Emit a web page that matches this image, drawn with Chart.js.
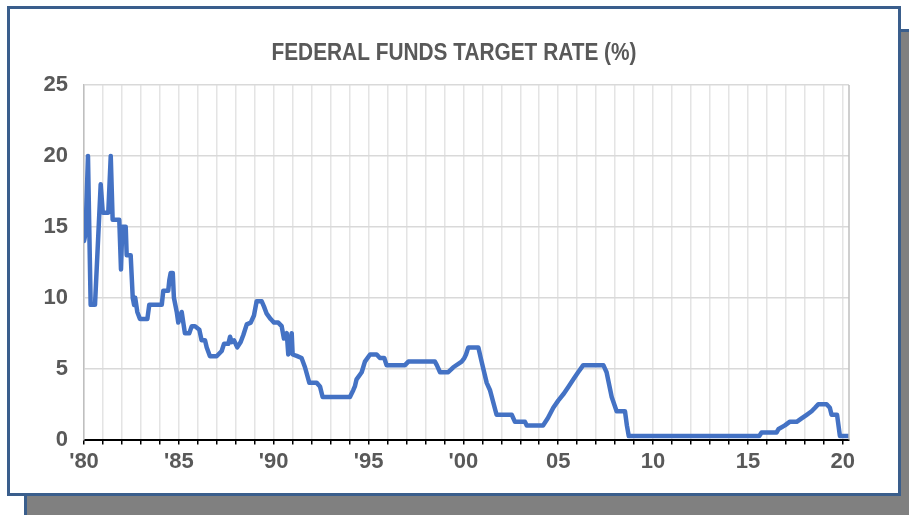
<!DOCTYPE html>
<html>
<head>
<meta charset="utf-8">
<title>Federal Funds Target Rate</title>
<script src="https://cdn.jsdelivr.net/npm/chart.js@4.4.1/dist/chart.umd.min.js"></script>
<style>
    html, body {
        margin: 0;
        padding: 0;
        width: 909px;
        height: 515px;
        overflow: hidden;
        background: #ffffff;
    }
    /* Sombra gris desplazada detrás del panel */
    .panel-shadow {
        position: absolute;
        left: 24px;
        top: 29px;
        width: 900px;
        height: 500px;
        background: #808080;
        border: 3px solid #3a5e8c;
    }
    .panel {
        position: absolute;
        left: 7px;
        top: 6px;
        width: 888px;
        height: 484px;
        background: #ffffff;
        border: 3px solid #3a5e8c;
    }
    #chart-wrap {
        position: absolute;
        left: 0;
        top: 0;
        width: 909px;
        height: 515px;
    }
</style>
</head>
<body>
<div class="panel-shadow"></div>
<div class="panel"></div>
<div id="chart-wrap"><canvas id="rate-chart"></canvas></div>

<script>
// Fechas (año decimal) y tasa objetivo de los fondos federales en %
const years = [
    1980.00, 1980.08, 1980.21, 1980.35, 1980.58, 1980.88, 1980.99, 1981.28, 1981.41, 1981.51,
    1981.86, 1981.95, 1982.02, 1982.20, 1982.25, 1982.46, 1982.57, 1982.64, 1982.70, 1982.81,
    1982.95, 1983.34, 1983.44, 1984.10, 1984.18, 1984.44, 1984.50, 1984.57, 1984.68, 1984.74,
    1984.89, 1984.97, 1985.15, 1985.32, 1985.55, 1985.68, 1985.85, 1986.08, 1986.20, 1986.38,
    1986.47, 1986.64, 1986.99, 1987.08, 1987.26, 1987.38, 1987.61, 1987.70, 1987.79, 1987.91,
    1988.08, 1988.26, 1988.40, 1988.58, 1988.79, 1988.96, 1989.10, 1989.37, 1989.49, 1989.63,
    1989.84, 1990.02, 1990.24, 1990.42, 1990.54, 1990.69, 1990.77, 1990.95, 1991.00, 1991.21,
    1991.47, 1991.65, 1991.88, 1992.27, 1992.44, 1992.58, 1994.02, 1994.20, 1994.28, 1994.37,
    1994.64, 1994.81, 1995.08, 1995.43, 1995.60, 1995.83, 1995.95, 1996.92, 1997.10, 1998.50,
    1998.60, 1998.77, 1999.20, 1999.47, 1999.91, 2000.05, 2000.14, 2000.26, 2000.79, 2000.96,
    2001.23, 2001.40, 2001.75, 2002.55, 2002.72, 2003.25, 2003.34, 2004.20, 2004.45, 2004.74,
    2005.00, 2005.30, 2005.55, 2005.80, 2006.05, 2006.32, 2007.38, 2007.55, 2007.82, 2008.08,
    2008.52, 2008.62, 2008.72, 2015.60, 2015.72, 2016.51, 2016.62, 2016.95, 2017.20, 2017.57,
    2017.83, 2018.10, 2018.36, 2018.54, 2018.71, 2019.15, 2019.32, 2019.41, 2019.70, 2019.85,
    2020.33
];
const rates = [
    14.0, 14.5, 20.0, 9.5, 9.5, 18.0, 16.0, 16.0, 20.0, 15.5,
    15.5, 12.0, 15.0, 15.0, 13.0, 13.0, 10.0, 9.5, 10.0, 9.0,
    8.5, 8.5, 9.5, 9.5, 10.5, 10.5, 11.25, 11.75, 11.75, 10.0,
    9.0, 8.25, 9.0, 7.5, 7.5, 8.0, 8.0, 7.75, 7.0, 7.0,
    6.5, 5.875, 5.875, 6.0, 6.25, 6.75, 6.75, 7.25, 6.875, 7.0,
    6.5, 6.875, 7.375, 8.125, 8.25, 8.75, 9.75, 9.75, 9.375, 8.875,
    8.5, 8.25, 8.25, 8.0, 7.125, 7.5, 6.0, 7.5, 6.0, 5.9,
    5.75, 5.1, 4.0, 4.0, 3.75, 3.0, 3.0, 3.5, 3.75, 4.25,
    4.75, 5.5, 6.0, 6.0, 5.75, 5.75, 5.25, 5.25, 5.5, 5.5,
    5.25, 4.75, 4.75, 5.1, 5.5, 5.75, 6.0, 6.5, 6.5, 5.5,
    4.0, 3.5, 1.75, 1.75, 1.25, 1.25, 1.0, 1.0, 1.5, 2.25,
    2.75, 3.25, 3.75, 4.25, 4.75, 5.25, 5.25, 4.75, 3.0, 2.0,
    2.0, 1.0, 0.25, 0.25, 0.5, 0.5, 0.75, 1.0, 1.25, 1.25,
    1.5, 1.75, 2.0, 2.25, 2.5, 2.5, 2.25, 1.75, 1.75, 0.25,
    0.25
];

// Etiquetas del eje X cada 5 años
const xTickLabels = ["'80", "'85", "'90", "'95", "'00", "05", "10", "15", "20"];
const yTicks = [0, 5, 10, 15, 20, 25];
const chartTitle = 'FEDERAL FUNDS TARGET RATE (%)';

const labelFont = { family: "'Liberation Sans', Arial, sans-serif", size: 22, weight: 'bold', lineHeight: 1.2 };

// Título con letra estrecha (se comprime en horizontal)
const narrowTitle = {
    id: 'narrowTitle',
    afterDraw(chart) {
        const { ctx } = chart;
        const cx = 454;
        ctx.save();
        ctx.font = "bold 23px 'Liberation Sans', Arial, sans-serif";
        ctx.fillStyle = '#595959';
        ctx.textAlign = 'center';
        ctx.textBaseline = 'alphabetic';
        ctx.translate(cx, 59.5);
        ctx.scale(0.906, 1);
        ctx.fillText(chartTitle, 0, 0);
        ctx.restore();
    }
};

// Borde derecho del área del gráfico
const plotFrame = {
    id: 'plotFrame',
    afterDraw(chart) {
        const { ctx, chartArea } = chart;
        ctx.save();
        ctx.strokeStyle = '#bfbfbf';
        ctx.lineWidth = 1.5;
        ctx.beginPath();
        ctx.moveTo(chartArea.right, chartArea.top);
        ctx.lineTo(chartArea.right, chartArea.bottom);
        ctx.stroke();
        ctx.restore();
    }
};

const points = years.map((y, i) => ({ x: y, y: rates[i] }));

new Chart(document.getElementById('rate-chart'), {
    type: 'line',
    data: {
        datasets: [{
            label: chartTitle,
            data: points,
            borderColor: '#4472c4',
            borderWidth: 4.5,
            pointRadius: 0,
            tension: 0,
            borderJoinStyle: 'round',
            borderCapStyle: 'round'
        }]
    },
    options: {
        responsive: true,
        maintainAspectRatio: false,
        animation: false,
        layout: {
            padding: { left: 0, right: 60, top: 85, bottom: 36 }
        },
        plugins: {
            legend: { display: false },
            tooltip: { enabled: false },
            title: { display: false }
        },
        scales: {
            x: {
                type: 'linear',
                min: 1980,
                max: 2020.33,
                border: { color: '#000000', width: 2 },
                grid: {
                    color: '#e4e4e4',
                    lineWidth: 1.5,
                    tickColor: '#000000',
                    tickLength: 5,
                    drawTicks: true
                },
                ticks: {
                    stepSize: 1,
                    includeBounds: false,
                    autoSkip: false,
                    maxRotation: 0,
                    padding: 4,
                    color: '#595959',
                    font: labelFont,
                    callback: (value) => {
                        const idx = Math.round(value) - 1980;
                        return idx % 5 === 0 ? xTickLabels[idx / 5] : '';
                    }
                }
            },
            y: {
                min: 0,
                max: 25,
                border: { color: '#bfbfbf', width: 1.5 },
                grid: {
                    color: '#d9d9d9',
                    lineWidth: 1.5,
                    drawTicks: false
                },
                afterFit: (scale) => { scale.width = 84; },
                afterBuildTicks: (scale) => {
                    scale.ticks = yTicks.map(v => ({ value: v }));
                },
                ticks: {
                    padding: 16,
                    color: '#595959',
                    font: labelFont
                }
            }
        }
    },
    plugins: [narrowTitle, plotFrame]
});
</script>
</body>
</html>
